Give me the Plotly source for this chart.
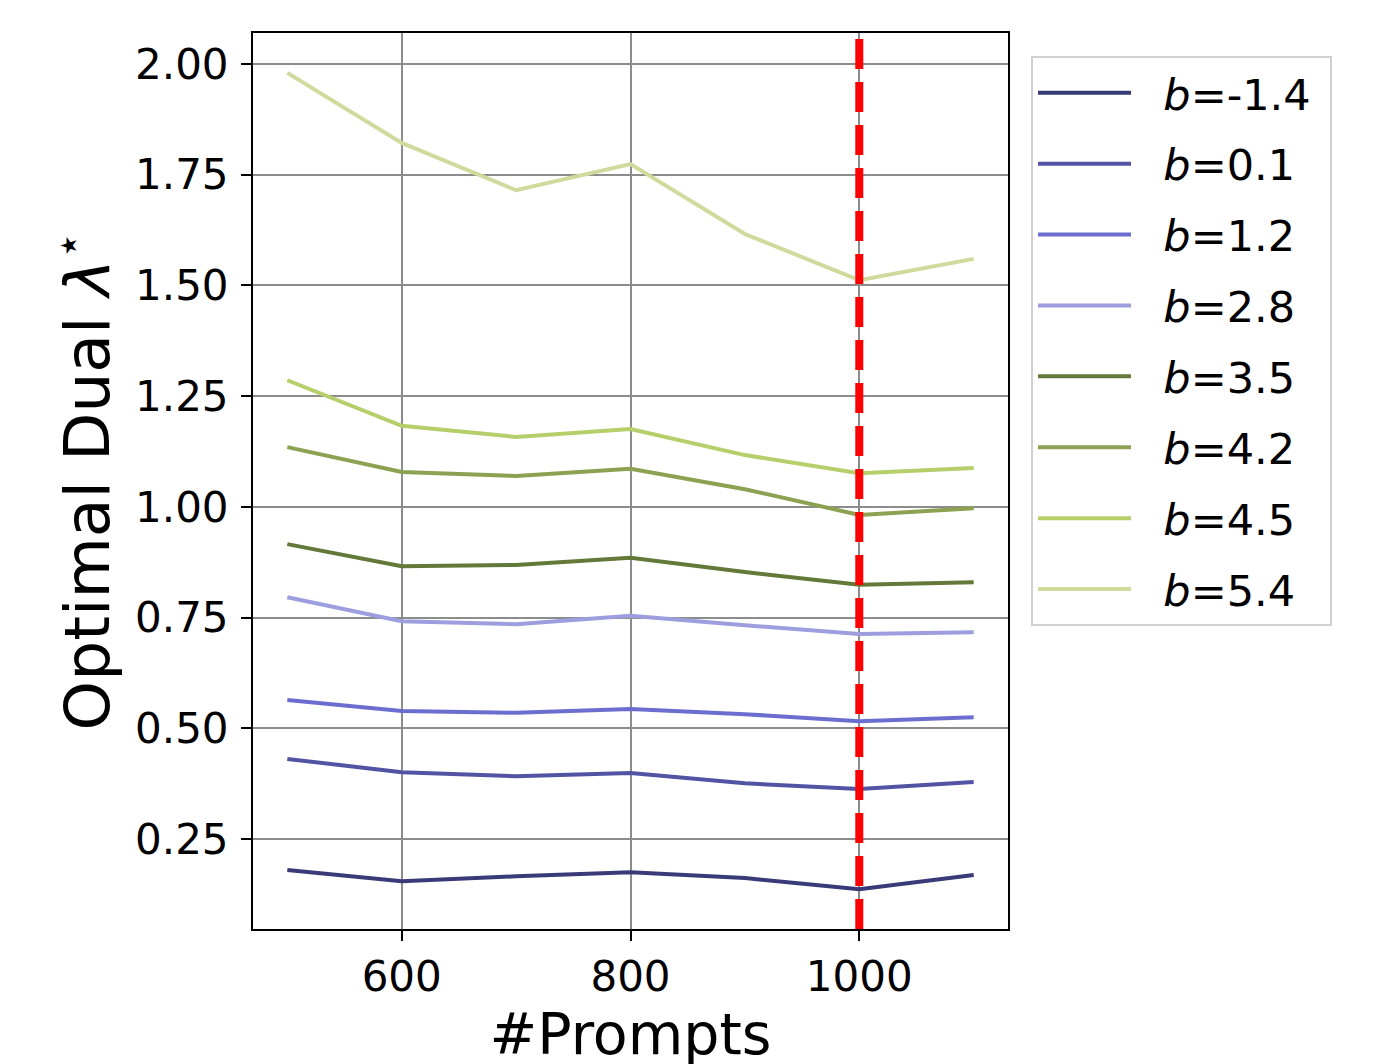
import plotly.graph_objects as go

prompts = [500, 600, 700, 800, 900, 1000, 1100]
b_labels = ["-1.4", "0.1", "1.2", "2.8", "3.5", "4.2", "4.5", "5.4"]
colors = ["#393b79", "#5254a3", "#6b6ecf", "#9c9ede",
          "#637939", "#8ca252", "#b5cf6b", "#cedb9c"]

lam_m14 = [0.180, 0.155, 0.166, 0.175, 0.162, 0.137, 0.169]
lam_01 = [0.431, 0.401, 0.392, 0.399, 0.376, 0.363, 0.379]
lam_12 = [0.564, 0.539, 0.535, 0.544, 0.532, 0.516, 0.525]
lam_28 = [0.796, 0.742, 0.735, 0.754, 0.733, 0.713, 0.717]
lam_35 = [0.916, 0.866, 0.869, 0.885, 0.853, 0.824, 0.830]
lam_42 = [1.135, 1.079, 1.070, 1.086, 1.040, 0.982, 0.997]
lam_45 = [1.286, 1.183, 1.158, 1.176, 1.117, 1.076, 1.088]
lam_54 = [1.980, 1.822, 1.715, 1.774, 1.616, 1.512, 1.560]
series = [lam_m14, lam_01, lam_12, lam_28, lam_35, lam_42, lam_45, lam_54]

vline_x = 1000

fig = go.Figure()
for lab, col, ys in zip(b_labels, colors, series):
    fig.add_trace(go.Scatter(
        x=prompts, y=ys, mode="lines",
        name="\u00a0\u00a0<i>b</i>=" + lab + "\u00a0", legendgroup=lab,
        line=dict(color=col, width=4),
    ))

fig.add_shape(type="line", xref="x", yref="paper",
              x0=vline_x, x1=vline_x, y0=0, y1=1,
              line=dict(color="#ff0000", width=8, dash="30px,13px"))

font_main = "DejaVu Sans, Arial, sans-serif"
fig.update_layout(
    width=1388, height=1064,
    margin=dict(l=245, r=388, t=25, b=143),
    paper_bgcolor="white", plot_bgcolor="white",
    font=dict(family=font_main, color="black"),
    showlegend=True,
    legend=dict(
        x=1.0305, y=0.974, xanchor="left", yanchor="top",
        font=dict(size=43, family=font_main),
        bgcolor="white", bordercolor="#d0d0d0", borderwidth=2,
        traceorder="grouped", tracegroupgap=12,
        itemwidth=93,
    ),
    xaxis=dict(
        range=[470, 1130],
        tickvals=[600, 800, 1000], ticktext=["600", "800", "1000"],
        tickfont=dict(size=42),
        showgrid=True, gridcolor="#8c8c8c", gridwidth=1.5,
        showline=True, linecolor="black", linewidth=2, mirror=True,
        ticks="outside", ticklen=10, tickwidth=2, tickcolor="black",
        zeroline=False,
        title=dict(text="#Prompts", font=dict(size=57), standoff=6),
    ),
    yaxis=dict(
        range=[0.047, 2.07],
        tickvals=[0.25, 0.5, 0.75, 1.0, 1.25, 1.5, 1.75, 2.0],
        ticktext=["0.25", "0.50", "0.75", "1.00", "1.25", "1.50", "1.75", "2.00"],
        tickfont=dict(size=42),
        ticklabelstandoff=4,
        showgrid=True, gridcolor="#8c8c8c", gridwidth=1.5,
        showline=True, linecolor="black", linewidth=2, mirror=True,
        ticks="outside", ticklen=10, tickwidth=2, tickcolor="black",
        zeroline=False,
        title=dict(text="Optimal Dual <i>λ</i><sup>⋆</sup>", font=dict(size=63), standoff=5),
    ),
)

fig.write_html("out.html")
